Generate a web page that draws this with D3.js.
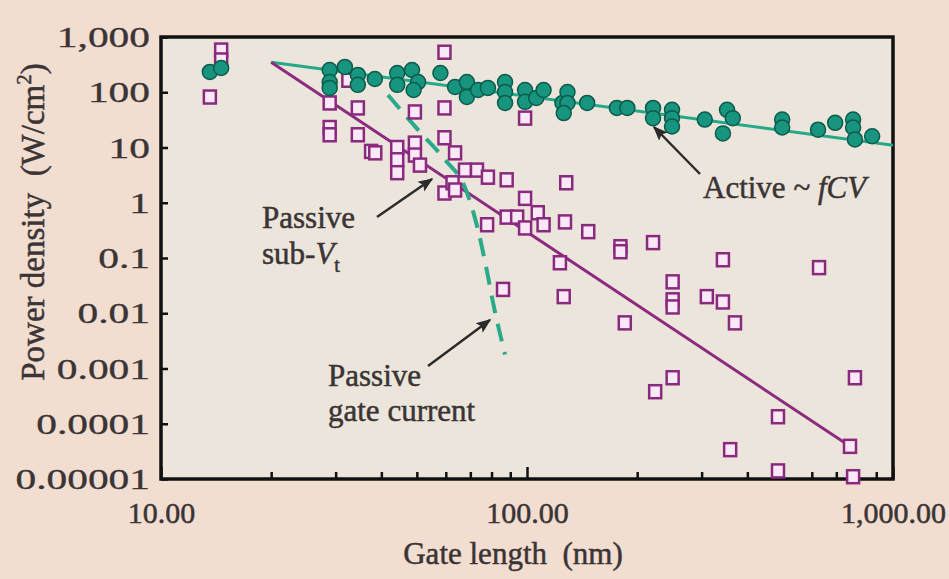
<!DOCTYPE html>
<html>
<head>
<meta charset="utf-8">
<script src="https://cdn.jsdelivr.net/npm/d3@7"></script>
<style>
  html, body { margin: 0; padding: 0; background: #f2ddd1; }
  svg { display: block; }
  text { font-family: "Liberation Serif", "Times New Roman", serif; fill: #3a3434; stroke: #3a3434; stroke-width: 0.5px; }
</style>
</head>
<body>
<svg id="chart" width="949" height="579"></svg>
<script>
// Power density vs. gate length (log-log)

// Active power density (filled circles)
const activeLength = [13.6, 14.6, 28.9, 28.9, 28.9, 31.8, 34.5, 34.5, 38.4, 44.2, 44.2, 48.5, 50.4, 49, 58,
  63.6, 68.5, 68.5, 73.5, 78.2, 87.1, 87.1, 87.1, 98.8, 98.8, 106, 111, 125, 129, 129, 126, 146,
  176, 188, 221, 221, 249, 249, 249, 306, 352, 365, 343, 498, 498, 624, 695, 778, 778, 787, 877];
const activePower = [233, 275, 253, 153, 120, 287, 206, 136, 174, 223, 136, 253, 153, 110, 223,
  125, 153, 82, 110, 120, 153, 101, 64, 110, 67, 79, 110, 64, 101, 64, 42, 64,
  52, 52, 52, 34, 48, 34, 24, 32, 48, 34, 18, 32, 23, 21, 28, 32, 23, 14, 16];

// Passive power density (open squares)
const passiveLength = [13.6, 14.6, 14.6, 28.9, 28.9, 28.9, 32.5, 34.5, 34.5, 37.5, 38.5, 44.2, 44.2, 44.2,
  49.4, 49.4, 49.4, 51, 59.5, 59.5, 59.5, 59.5, 62.6, 63.6, 63.6, 67.7, 73, 78.2, 88, 98.8, 98.8, 128,
  77.8, 88, 94, 98.8, 107, 111, 127, 147, 180, 180, 221, 343, 123, 86, 126, 250, 250, 250, 310, 343,
  370, 185, 250, 224, 628, 787, 485, 485, 763, 778, 359];
const passivePower = [82, 580, 384, 64, 23, 17, 165, 52, 17, 8.5, 8.0, 10, 6, 3.5,
  44, 12, 7.3, 4.8, 530, 52, 15, 1.5, 2.3, 1.7, 8, 3.9, 3.9, 2.9, 2.6, 34, 1.2, 2.3,
  0.4, 0.55, 0.55, 0.35, 0.66, 0.4, 0.45, 0.3, 0.16, 0.13, 0.19, 0.093, 0.082, 0.027, 0.02, 0.037, 0.0175, 0.013, 0.02, 0.016,
  0.0067, 0.0067, 0.00068, 0.00038, 0.067, 0.00068, 0.000134, 0.000014, 0.000039, 0.000011, 0.000034];

// Trend lines
const activeTrendLength = [20, 1000];
const activeTrendPower = [350, 11];
const subVtTrendLength = [20, 763];
const subVtTrendPower = [350, 0.000039];
const gateTrendLength = [41.7, 51, 59.7, 68.1, 73.5, 77.3, 81.3, 87.1];
const gateTrendPower = [89, 19.1, 6.0, 1.71, 0.32, 0.069, 0.0126, 0.0018];

// Axis ticks
const xTickValues = [10, 100, 1000];
const xTickLabels = ["10.00", "100.00", "1,000.00"];
const xMinorTicks = [20, 30, 40, 50, 60, 70, 80, 90, 200, 300, 400, 500, 600, 700, 800, 900];
const yTickValues = [1000, 100, 10, 1, 0.1, 0.01, 0.001, 0.0001, 0.00001];
const yTickLabels = ["1,000", "100", "10", "1", "0.1", "0.01", "0.001", "0.0001", "0.00001"];

const W = 949, H = 579;
const margin = { top: 37, right: 56, bottom: 100, left: 161 };
const iw = W - margin.left - margin.right;
const ih = H - margin.top - margin.bottom;

const svg = d3.select("#chart");
svg.append("rect").attr("width", W).attr("height", H).attr("fill", "#f2ddd1");

const g = svg.append("g").attr("transform", `translate(${margin.left},${margin.top})`);

const x = d3.scaleLog().domain([10, 1000]).range([0, iw]);
const y = d3.scaleLog().domain([0.00001, 1000]).range([ih, 0]);

// plot area
g.append("rect").attr("width", iw).attr("height", ih).attr("fill", "#ece5db");

// x axis: inward ticks
const xAxis = d3.axisBottom(x).tickValues(xTickValues)
  .tickFormat((d, i) => xTickLabels[i]).tickSizeInner(-12).tickSizeOuter(0).tickPadding(23);
const gx = g.append("g").attr("transform", `translate(0,${ih})`).call(xAxis);
gx.select(".domain").remove();
gx.selectAll(".tick line").attr("stroke", "#111").attr("stroke-width", 2.5);
gx.selectAll(".tick text").attr("font-size", 30).attr("fill", "#3a3434")
  .style("font-family", '"Liberation Serif", serif');

const gxm = g.append("g").attr("transform", `translate(0,${ih})`)
  .call(d3.axisBottom(x).tickValues(xMinorTicks).tickFormat("").tickSizeInner(-7).tickSizeOuter(0));
gxm.select(".domain").remove();
gxm.selectAll(".tick line").attr("stroke", "#111").attr("stroke-width", 2.5);

// y axis: inward ticks, labels set in a wide face
const yLabelStretch = 1.38;
const yAxis = d3.axisLeft(y).tickValues(yTickValues)
  .tickFormat((d, i) => yTickLabels[i]).tickSizeInner(-7).tickSizeOuter(0).tickPadding(11);
const gy = g.append("g").call(yAxis);
gy.select(".domain").remove();
gy.selectAll(".tick line").attr("stroke", "#111").attr("stroke-width", 2.5);
gy.selectAll(".tick text").attr("font-size", 30).attr("fill", "#3a3434")
  .style("font-family", '"Liberation Serif", serif')
  .style("stroke-width", "0.35px")
  .attr("x", 0)
  .attr("transform", `translate(-11,0) scale(${yLabelStretch},1)`);

// frame
g.append("rect").attr("width", iw).attr("height", ih)
  .attr("fill", "none").attr("stroke", "#111").attr("stroke-width", 3.5);

// trend lines
const line = d3.line().x(d => x(d[0])).y(d => y(d[1]));
const zip = (a, b) => a.map((v, i) => [v, b[i]]);

g.append("path").datum(zip(activeTrendLength, activeTrendPower))
  .attr("d", line).attr("fill", "none").attr("stroke", "#25a98a").attr("stroke-width", 3);

g.append("path").datum(zip(subVtTrendLength, subVtTrendPower))
  .attr("d", line).attr("fill", "none").attr("stroke", "#8c2a80").attr("stroke-width", 3);

g.append("path").datum(zip(gateTrendLength, gateTrendPower))
  .attr("d", line.curve(d3.curveMonotoneX)).attr("fill", "none").attr("stroke", "#2aaa8a")
  .attr("stroke-width", 4).attr("stroke-dasharray", "18,11");

// passive squares
const sq = 12;
g.append("g").selectAll("rect").data(zip(passiveLength, passivePower)).join("rect")
  .attr("x", d => x(d[0]) - sq / 2).attr("y", d => y(d[1]) - sq / 2 - 0.5)
  .attr("width", sq).attr("height", sq + 1)
  .attr("fill", "#fbe8f6").attr("stroke", "#8a2a7e").attr("stroke-width", 2.5);

// active circles
g.append("g").selectAll("circle").data(zip(activeLength, activePower)).join("circle")
  .attr("cx", d => x(d[0])).attr("cy", d => y(d[1])).attr("r", 7.5)
  .attr("fill", "#17957e").attr("stroke", "#0c5a4c").attr("stroke-width", 1.5);

// annotations with arrows
const defs = svg.append("defs");
defs.append("marker").attr("id", "arrowhead").attr("viewBox", "0 0 10 10")
  .attr("refX", 9).attr("refY", 5).attr("markerWidth", 6).attr("markerHeight", 6)
  .attr("orient", "auto").attr("markerUnits", "strokeWidth")
  .append("path").attr("d", "M0,1 L10,5 L0,9 L2,5 Z").attr("fill", "#2b2b2b");

function arrow(x1, y1, x2, y2) {
  svg.append("line").attr("x1", x1).attr("y1", y1).attr("x2", x2).attr("y2", y2)
    .attr("stroke", "#2b2b2b").attr("stroke-width", 2.5).attr("marker-end", "url(#arrowhead)");
}
arrow(700, 174, 654, 127);
arrow(377, 217, 432, 179);
arrow(428, 366, 490, 320);

const fs = 31;
const t1 = svg.append("text").attr("x", 703).attr("y", 198).attr("font-size", fs);
t1.append("tspan").text("Active ~ ");
t1.append("tspan").attr("font-style", "italic").text("fCV");

svg.append("text").attr("x", 262).attr("y", 228).attr("font-size", fs).text("Passive");
const t2 = svg.append("text").attr("x", 262).attr("y", 264).attr("font-size", fs);
t2.append("tspan").text("sub-");
t2.append("tspan").attr("font-style", "italic").text("V");
t2.append("tspan").attr("font-size", 20).attr("dy", 8).text("t");

svg.append("text").attr("x", 328).attr("y", 386).attr("font-size", fs).text("Passive");
svg.append("text").attr("x", 328).attr("y", 421).attr("font-size", fs).text("gate current");

// axis titles
svg.append("text").attr("x", 513).attr("y", 564)
  .attr("text-anchor", "middle").attr("font-size", 31).text("Gate length\u00a0\u00a0(nm)");

const yt = svg.append("text").attr("transform", "translate(44,222) rotate(-90)")
  .attr("text-anchor", "middle").attr("font-size", 33);
yt.append("tspan").text("Power density\u00a0\u00a0(W/cm");
yt.append("tspan").attr("font-size", 21).attr("dy", -13).text("2");
yt.append("tspan").attr("dy", 13).text(")");
</script>
</body>
</html>
